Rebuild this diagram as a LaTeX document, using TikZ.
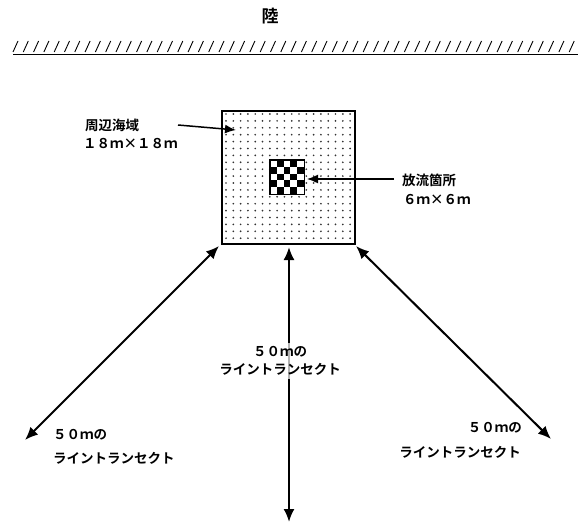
\documentclass[tikz,border=0pt]{standalone}
\usepackage{fontspec}
\setmainfont{Noto Sans CJK JP}[BoldFont={Noto Sans CJK JP Bold}]
\usetikzlibrary{arrows.meta}
\begin{document}
\begin{tikzpicture}[x=1pt,y=-1pt,
  lbl/.style={inner sep=0pt,font=\fontsize{13.5}{16}\selectfont\bfseries},
  dbl/.style={line width=2pt,{Latex[length=13pt,width=11pt]}-{Latex[length=13pt,width=11pt]}},
  ptr/.style={line width=1.5pt,-{Latex[length=11pt,width=9pt]}}]
\useasboundingbox (0,0) rectangle (578,524);
% land
\node[inner sep=0pt,font=\fontsize{17}{20}\selectfont\bfseries] (land) at (270,16) {陸};
\coordinate (shoreL) at (13,54.5);
\coordinate (shoreR) at (578,54.5);
\draw[line width=1.2pt] (shoreL) -- (shoreR);
\foreach \i in {0,...,55} {
  \draw[line width=0.9pt] (13+\i*10.3,52) -- ++(5,-11);
}
% surrounding sea area
\node[draw,line width=2pt,minimum width=133pt,minimum height=133pt,inner sep=0pt,anchor=north west] (sq) at (221,110) {};
\foreach \c in {0,...,17} {
  \foreach \r in {0,...,18} {
    \fill[black!80] (226+\c*7.3,114+\r*6.9) circle (0.95pt);
  }
}
% discharge point checkerboard
\node[fill=white,minimum width=34pt,minimum height=34pt,inner sep=0pt,anchor=north west] (ck) at (270,160) {};
\foreach \c in {0,...,4} {
  \foreach \r in {0,...,4} {
    \pgfmathtruncatemacro{\odd}{mod(\c+\r,2)}
    \ifnum\odd=1
      \fill[black] (270+\c*6.8,160+\r*6.8) rectangle ++(6.8,6.8);
    \fi
  }
}
\draw[line width=1.4pt] (ck.north west) rectangle (ck.south east);
% labels
\node[lbl,anchor=west] (seaA) at (85,125) {周辺海域};
\node[lbl,anchor=west] (seaB) at (83,143) {１８ｍ×１８ｍ};
\node[lbl,anchor=west] (disA) at (402,180) {放流箇所};
\node[lbl,anchor=west] (disB) at (403,199) {６ｍ×６ｍ};
\coordinate (seaTip) at (236,130);
\coordinate (seaTail) at (178,125);
\coordinate (disTip) at (307,179);
\coordinate (disTail) at (394,179);
\draw[ptr] (seaTail) -- (seaTip);
\draw[ptr] (disTail) -- (disTip);
% transects
\coordinate (tL0) at (219,246);
\coordinate (tL1) at (25,440);
\coordinate (tR0) at (356,246);
\coordinate (tR1) at (551,439);
\coordinate (tM0) at (289,247);
\coordinate (tM1) at (289,522);
\draw[dbl] (tL0) -- (tL1);
\draw[dbl] (tR0) -- (tR1);
\draw[dbl] (tM0) -- (tM1);
\node[lbl,fill=white,fill opacity=0.7,text opacity=1,inner sep=3pt,align=center] (midlab) at (280,361) {５０ｍの\\[2pt]ライントランセクト};
\node[lbl,anchor=west] (lA) at (53,435) {５０ｍの};
\node[lbl,anchor=west] (lB) at (53,458) {ライントランセクト};
\node[lbl,anchor=east] (rA) at (522,428) {５０ｍの};
\node[lbl,anchor=east] (rB) at (521,452) {ライントランセクト};
\end{tikzpicture}
\end{document}
